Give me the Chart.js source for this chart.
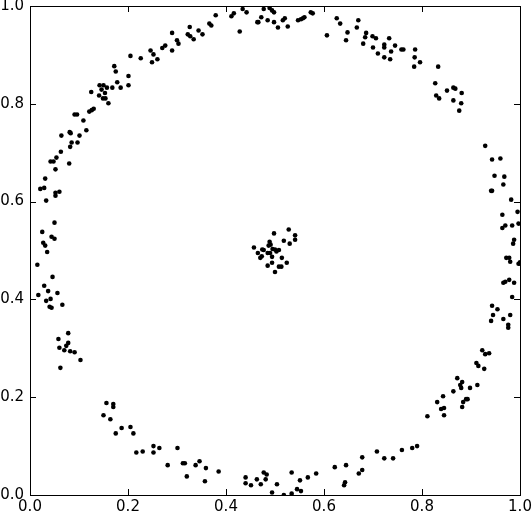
<!DOCTYPE html>
<html>
<head>
<meta charset="utf-8">
<script src="https://cdn.jsdelivr.net/npm/chart.js@4.4.1/dist/chart.umd.min.js"></script>
<style>
  html, body { margin: 0; padding: 0; background: #fff; }
  #wrap { width: 532px; height: 513px; }
</style>
</head>
<body>
<div id="wrap"><canvas id="chart" width="532" height="513"></canvas></div>
<script>
// points, [x, y], grouped by where they sit on the ring
const arcUpperLeft = [
  [0.326,0.957],[0.322,0.942],[0.327,0.938],[0.334,0.932],[0.290,0.945],[0.300,0.930],[0.303,0.923],
  [0.290,0.909],[0.270,0.914],[0.276,0.919],[0.246,0.909],[0.252,0.901],[0.249,0.885],[0.260,0.891],
  [0.226,0.893],[0.205,0.898],[0.172,0.877],[0.175,0.866],[0.201,0.857],[0.201,0.838],[0.178,0.844],
  [0.185,0.833],[0.168,0.833],[0.157,0.833],[0.142,0.838],[0.150,0.838],[0.146,0.829],[0.153,0.822],
  [0.141,0.817],[0.149,0.811],[0.154,0.811],[0.160,0.801],[0.125,0.824],[0.130,0.790],[0.126,0.787],
  [0.121,0.784],[0.091,0.778],[0.096,0.778],[0.109,0.766],[0.115,0.746],[0.081,0.742],[0.083,0.740],
  [0.064,0.735],[0.101,0.735],[0.085,0.721],[0.097,0.721],[0.082,0.712],[0.063,0.702],[0.054,0.690],
  [0.042,0.682],[0.048,0.682],[0.080,0.678],[0.052,0.666],
];
const arcTop = [
  [0.344,0.950],[0.352,0.942],[0.366,0.964],[0.370,0.960],[0.379,0.981],[0.411,0.979],[0.416,0.985],
  [0.428,0.948],[0.434,0.994],[0.442,0.987],[0.464,0.967],[0.466,0.967],[0.472,0.977],[0.477,0.994],
  [0.485,0.971],[0.489,0.996],[0.494,0.991],[0.498,0.987],[0.498,0.967],[0.506,0.956],[0.516,0.971],
  [0.520,0.975],[0.526,0.958],[0.547,0.971],[0.553,0.973],[0.557,0.975],[0.560,0.977],[0.573,0.987],
  [0.577,0.985],[0.606,0.940],[0.626,0.975],[0.633,0.964],[0.648,0.946],[0.645,0.930],[0.667,0.956],
  [0.670,0.971],
];
const arcUpperRight = [
  [0.686,0.945],[0.684,0.936],[0.680,0.923],[0.699,0.938],[0.706,0.934],[0.700,0.915],[0.710,0.903],
  [0.723,0.921],[0.723,0.915],[0.723,0.895],[0.733,0.934],[0.737,0.907],[0.735,0.891],[0.745,0.919],
  [0.758,0.911],[0.762,0.911],[0.786,0.911],[0.785,0.895],[0.784,0.876],[0.796,0.885],[0.833,0.876],
  [0.827,0.842],[0.829,0.817],[0.835,0.811],[0.851,0.827],[0.864,0.833],[0.868,0.831],[0.864,0.807],
  [0.881,0.822],[0.880,0.801],[0.876,0.786],[0.929,0.714],[0.943,0.686],[0.960,0.688],
];
const arcLeft = [
  [0.031,0.647],[0.021,0.626],[0.029,0.628],[0.052,0.618],[0.060,0.620],[0.052,0.612],[0.033,0.602],
  [0.050,0.557],[0.025,0.538],[0.044,0.528],[0.050,0.524],[0.027,0.516],[0.031,0.510],[0.035,0.497],
  [0.015,0.471],[0.046,0.446],[0.029,0.428],[0.017,0.409],[0.037,0.417],[0.056,0.413],[0.033,0.397],
  [0.042,0.401],[0.040,0.385],[0.044,0.383],[0.066,0.389],[0.078,0.331],
];
const arcRight = [
  [0.948,0.653],[0.968,0.651],[0.966,0.635],[0.941,0.622],[0.943,0.622],[0.982,0.604],[0.995,0.579],
  [0.964,0.573],[0.997,0.555],[0.984,0.551],[0.964,0.546],[0.970,0.551],[0.988,0.522],[0.986,0.514],
  [0.972,0.485],[0.978,0.485],[0.980,0.477],[0.997,0.473],[1.000,0.476],[0.966,0.434],[0.970,0.436],
  [0.978,0.440],[0.988,0.434],[0.984,0.405],[0.943,0.387],[0.954,0.380],[0.945,0.368],[0.941,0.356],
  [0.966,0.360],[0.980,0.368],[0.976,0.348],[0.976,0.342],
];
const arcLowerLeft = [
  [0.058,0.319],[0.060,0.301],[0.070,0.296],[0.074,0.305],[0.078,0.311],[0.082,0.294],[0.091,0.292],
  [0.103,0.276],[0.062,0.260],[0.156,0.188],[0.170,0.186],[0.170,0.180],[0.150,0.163],[0.164,0.155],
  [0.175,0.126],[0.187,0.137],[0.205,0.139],[0.211,0.126],[0.217,0.087],[0.230,0.089],[0.252,0.100],
  [0.252,0.087],[0.264,0.096],[0.301,0.096],[0.281,0.061],[0.312,0.065],[0.316,0.065],[0.320,0.038],
];
const arcBottom = [
  [0.338,0.061],[0.346,0.069],[0.359,0.055],[0.357,0.028],[0.385,0.048],[0.440,0.036],[0.440,0.024],
  [0.451,0.020],[0.463,0.032],[0.471,0.022],[0.477,0.046],[0.483,0.042],[0.481,0.032],[0.494,0.005],
  [0.504,0.022],[0.518,0.000],[0.534,0.046],[0.534,0.003],[0.545,0.012],[0.553,0.008],[0.551,0.030],
  [0.567,0.036],[0.584,0.044],[0.622,0.057],[0.645,0.061],[0.643,0.026],[0.641,0.020],
];
const arcLowerRight = [
  [0.671,0.044],[0.678,0.051],[0.678,0.077],[0.708,0.089],[0.723,0.075],[0.741,0.075],[0.759,0.092],
  [0.780,0.096],[0.790,0.100],[0.811,0.161],[0.831,0.190],[0.839,0.176],[0.845,0.178],[0.843,0.202],
  [0.845,0.163],[0.864,0.212],[0.872,0.239],[0.878,0.225],[0.882,0.231],[0.880,0.219],[0.884,0.190],
  [0.882,0.180],[0.890,0.196],[0.893,0.196],[0.898,0.219],[0.913,0.225],[0.911,0.270],[0.915,0.264],
  [0.927,0.258],[0.923,0.296],[0.929,0.288],[0.937,0.290],
];
const centerCluster = [
  [0.498,0.535],[0.528,0.543],[0.541,0.531],[0.541,0.522],[0.518,0.520],[0.530,0.514],[0.489,0.518],
  [0.491,0.512],[0.487,0.510],[0.457,0.506],[0.474,0.502],[0.477,0.501],[0.495,0.503],[0.500,0.502],
  [0.508,0.501],[0.503,0.498],[0.465,0.495],[0.485,0.495],[0.490,0.495],[0.473,0.488],[0.470,0.485],
  [0.494,0.487],[0.514,0.485],[0.494,0.475],[0.524,0.475],[0.485,0.469],[0.508,0.467],[0.513,0.467],
  [0.500,0.456],
];
const tickValues = [0, 0.2, 0.4, 0.6, 0.8, 1.0];

const allPoints = [
  ...arcUpperLeft, ...arcTop, ...arcUpperRight, ...arcLeft, ...arcRight,
  ...arcLowerLeft, ...arcBottom, ...arcLowerRight, ...centerCluster,
].map(([x, y]) => ({ x, y }));

const tickFont = { family: "'DejaVu Sans', sans-serif", size: 15 };

function fixSize(size) {
  return function (scale) {
    if (scale.isHorizontal()) scale.height = size;
    else scale.width = size;
    scale.paddingLeft = 0;
    scale.paddingRight = 0;
    scale.paddingTop = 0;
    scale.paddingBottom = 0;
  };
}

function useTicks(scale) {
  scale.ticks = tickValues.map((v) => ({ value: v }));
}

// matplotlib style box with inward ticks on all four sides
const frameAndTicks = {
  id: "frameAndTicks",
  afterDraw(chart) {
    const { ctx, chartArea: a, scales } = chart;
    const len = 6;
    ctx.save();
    ctx.strokeStyle = "#000";
    ctx.lineWidth = 1;
    ctx.beginPath();
    for (const v of tickValues) {
      const px = Math.round(scales.x.getPixelForValue(v)) + 0.5;
      ctx.moveTo(px, a.bottom);
      ctx.lineTo(px, a.bottom - len);
      ctx.moveTo(px, a.top);
      ctx.lineTo(px, a.top + len);
      const py = Math.round(scales.y.getPixelForValue(v)) + 0.5;
      ctx.moveTo(a.left, py);
      ctx.lineTo(a.left + len, py);
      ctx.moveTo(a.right, py);
      ctx.lineTo(a.right - len, py);
    }
    ctx.stroke();
    ctx.strokeRect(a.left + 0.5, a.top + 0.5, a.right - a.left, a.bottom - a.top);
    ctx.restore();
  },
};

new Chart(document.getElementById("chart").getContext("2d"), {
  type: "scatter",
  data: {
    datasets: [
      {
        data: allPoints,
        pointRadius: 2.3,
        pointHoverRadius: 2.3,
        pointBackgroundColor: "#000",
        pointBorderWidth: 0,
        showLine: false,
      },
    ],
  },
  options: {
    responsive: false,
    animation: false,
    events: [],
    layout: { padding: { top: 6, right: 12, left: 0, bottom: 0 } },
    plugins: {
      legend: { display: false },
      tooltip: { enabled: false },
    },
    scales: {
      x: {
        type: "linear",
        min: 0,
        max: 1,
        afterBuildTicks: useTicks,
        afterFit: fixSize(18),
        grid: { display: false, drawTicks: false },
        border: { display: false },
        ticks: {
          color: "#000",
          font: tickFont,
          padding: 3,
          maxRotation: 0,
          autoSkip: false,
          callback: (v) => Number(v).toFixed(1),
        },
      },
      y: {
        type: "linear",
        min: 0,
        max: 1,
        afterBuildTicks: useTicks,
        afterFit: fixSize(30),
        grid: { display: false, drawTicks: false },
        border: { display: false },
        ticks: {
          color: "#000",
          font: tickFont,
          padding: 6,
          autoSkip: false,
          callback: (v) => Number(v).toFixed(1),
        },
      },
    },
  },
  plugins: [frameAndTicks],
});
</script>
</body>
</html>
